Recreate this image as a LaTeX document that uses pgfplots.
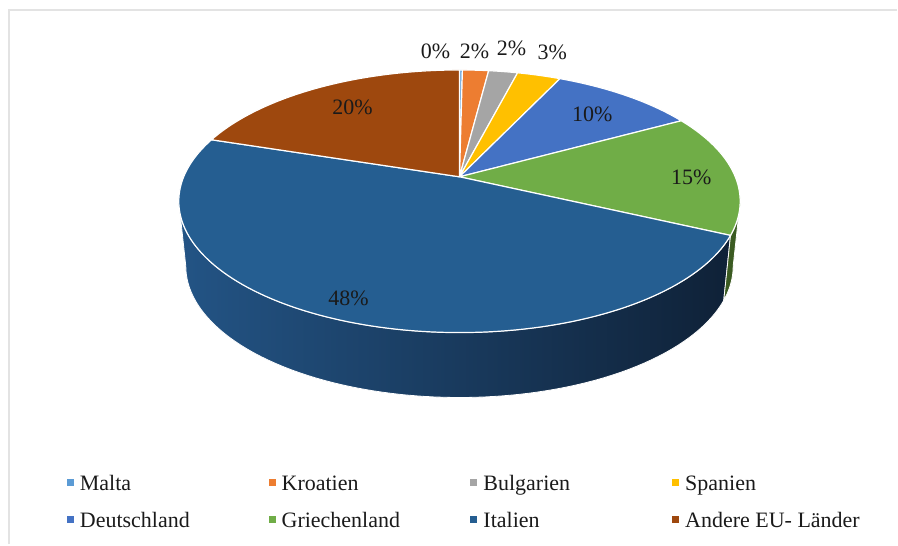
\documentclass[border=0pt]{standalone}
\usepackage{pgfplots}
\pgfplotsset{compat=1.18}
\usepackage{fontspec}
\setmainfont{Liberation Serif}
\definecolor{cMalta}{HTML}{5B9BD5}
\definecolor{cKroatien}{HTML}{ED7D31}
\definecolor{cBulgarien}{HTML}{A5A5A5}
\definecolor{cSpanien}{HTML}{FFC000}
\definecolor{cDeutschland}{HTML}{4472C4}
\definecolor{cGriechenland}{HTML}{70AD47}
\definecolor{cItalien}{HTML}{255E91}
\definecolor{cAndere}{HTML}{9E480E}
\definecolor{wallL}{HTML}{235485}
\definecolor{wallM}{HTML}{163253}
\definecolor{wallR}{HTML}{0F2137}
\definecolor{wallG}{HTML}{3B5B22}
\definecolor{frameC}{HTML}{E3E3E3}
\definecolor{txt}{HTML}{1A1A1A}
% projected rim of the pie (angle in degrees, clockwise from 12 o'clock)
\newcommand{\topx}[1]{460+276.1*sin(#1)/(1+0.1863*cos(#1))}
\newcommand{\topy}[1]{368+126.9*cos(#1)/(1+0.1863*cos(#1))}
\newcommand{\botx}[1]{460+269.2*sin(#1)/(1+0.1863*cos(#1))}
\newcommand{\boty}[1]{303+126.9*cos(#1)/(1+0.1863*cos(#1))}
% slice: start percent, end percent, colour, samples
\newcommand{\slice}[4]{%
  \addplot[fill=#3, draw=white, line width=1.2pt, domain=#1*3.6:#2*3.6, samples=#4]
    ({\topx{x}},{\topy{x}}) -- (axis cs:460,368) -- cycle;
}
\newcommand{\lent}[1]{\addlegendentry{\makebox[184pt][l]{\rule[-12pt]{0pt}{24pt}#1}}}
\begin{document}
\begin{tikzpicture}[font=\fontsize{22pt}{26pt}\selectfont]
\begin{axis}[
  width=898pt, height=545pt, scale only axis,
  xmin=0, xmax=898, ymin=0, ymax=545,
  hide axis, clip=false,
  legend columns=4,
  legend image code/.code={\fill[draw=none] (0pt,4.5pt) rectangle (7pt,11.5pt);},
  legend style={at={(axis cs:67,69)}, anchor=north west, draw=none, fill=none,
    inner sep=0pt, outer sep=0pt, text=txt,
    font=\fontsize{22pt}{26pt}\selectfont,
    nodes={inner sep=0pt, outer sep=0pt},
    row sep=20pt, column sep=0pt,
    /tikz/every odd column/.append style={column sep=6pt},
    /tikz/every even column/.append style={column sep=5pt},
    cells={anchor=base west}},
]
\path (axis cs:0,0) rectangle (axis cs:898,545);
\draw[frameC, line width=2pt] (axis cs:9.5,0) -- (axis cs:9.5,535) -- (axis cs:898,535);
% side walls
\shadedraw[draw=white, line width=0.8pt, left color=wallL, middle color=wallM, right color=wallR]
  plot[domain=115.2:259.26, samples=80] ({\topx{\x}},{\topy{\x}})
  -- plot[domain=259.26:115.2, samples=80] ({\botx{\x}},{\boty{\x}}) -- cycle;
\filldraw[fill=wallG, draw=white, line width=0.8pt]
  plot[domain=100.74:115.2, samples=12] ({\topx{\x}},{\topy{\x}})
  -- plot[domain=115.2:100.74, samples=12] ({\botx{\x}},{\boty{\x}}) -- cycle;
% slices (cumulative percent)
\slice{0}{0.2}{cMalta}{3}\lent{Malta}
\slice{0.2}{2.0}{cKroatien}{8}\lent{Kroatien}
\slice{2.0}{4.0}{cBulgarien}{8}\lent{Bulgarien}
\slice{4.0}{7.0}{cSpanien}{10}\lent{Spanien}
\slice{7.0}{17.0}{cDeutschland}{30}\lent{Deutschland}
\slice{17.0}{32.0}{cGriechenland}{40}\lent{Griechenland}
\slice{32.0}{80.0}{cItalien}{120}\lent{Italien}
\slice{80.0}{100.0}{cAndere}{50}\lent{Andere EU- Länder}
% data labels
\begin{scope}[every node/.style={anchor=base, text=txt, inner sep=0pt}]
\node at (axis cs:436,486) {0\%};
\node at (axis cs:475,486) {2\%};
\node at (axis cs:512,489) {2\%};
\node at (axis cs:553,485) {3\%};
\node at (axis cs:593,423) {10\%};
\node at (axis cs:692,360) {15\%};
\node at (axis cs:349,239) {48\%};
\node at (axis cs:353,430) {20\%};
\end{scope}
\end{axis}
\end{tikzpicture}
\end{document}
